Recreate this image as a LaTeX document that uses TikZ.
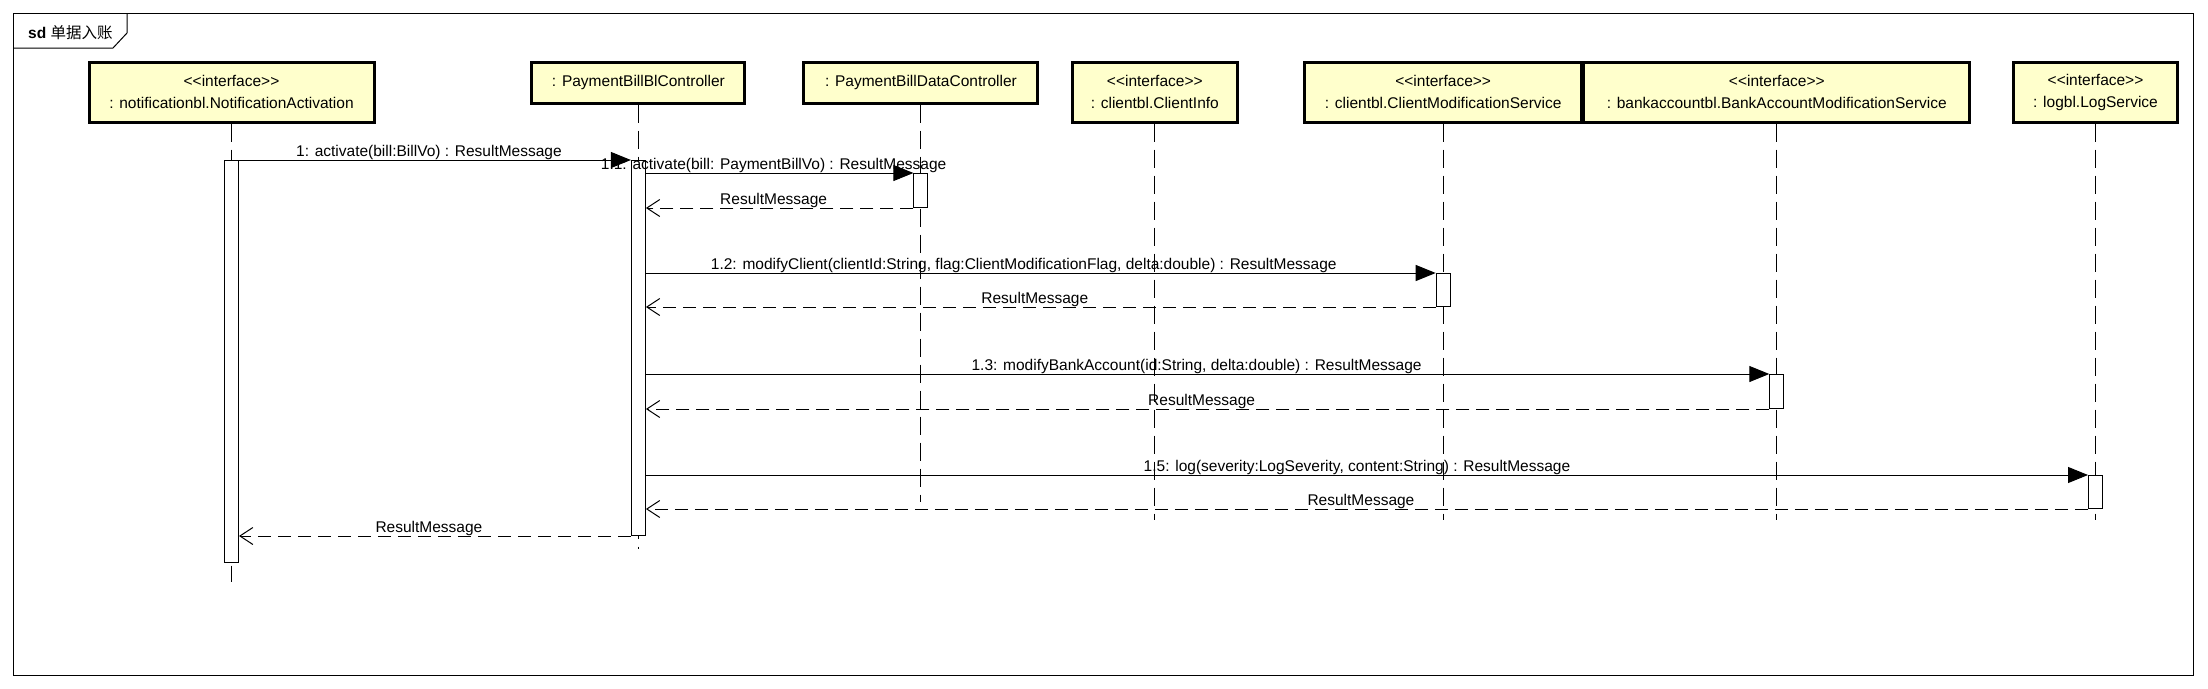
\documentclass[tikz,border=0pt]{standalone}
\usepackage{fontspec}
\setmainfont{Liberation Sans}
\newfontfamily\cjk{Noto Sans CJK SC}
\usetikzlibrary{arrows.meta}
\definecolor{headfill}{RGB}{255,255,204}
\newcommand\stereo[1]{<\kern0pt<#1>\kern0pt>}
\begin{document}
\begin{tikzpicture}[x=1pt,y=-1pt,
  every node/.style={font=\fontsize{15.5}{22}\selectfont, inner sep=0pt},
  head/.style={draw, line width=3pt, fill=headfill, align=center, minimum height=60pt},
  headone/.style={head, minimum height=41pt},
  lifeline/.style={draw, line width=1pt, dash pattern=on 18pt off 8pt},
  act/.style={draw, line width=1pt, fill=white, minimum width=14pt, anchor=north},
  msg/.style={line width=1pt, -{Triangle[length=20pt,width=16pt]}},
  ret/.style={line width=1pt, dash pattern=on 13pt off 7pt, -{Straight Barb[length=13pt,width=17pt,line width=1pt]}},
  lbl/.style={anchor=base, yshift=3.5pt, xshift=-6pt}
]
\useasboundingbox (0,0) rectangle (2208,688);

% frame
\node[draw, line width=1pt, minimum width=2180pt, minimum height=662pt, anchor=north west] (frame) at (13,13) {};
\draw[line width=1pt] (13,48) -- (113,48) -- (127,33) -- (127,13);
\node[anchor=base west] (title) at (28,38.5) {\textbf{sd} {\cjk 单据入账}};

% lifeline heads
\node[head, minimum width=285pt] (notif) at (231.5,92) {\stereo{interface}\\: notificationbl.NotificationActivation};
\node[headone, minimum width=213pt] (pbl) at (638.4,82.5) {: PaymentBillBlController};
\node[headone, minimum width=234pt] (pdata) at (920.9,82.5) {: PaymentBillDataController};
\node[head, minimum width=165pt] (cinfo) at (1154.8,92) {\stereo{interface}\\: clientbl.ClientInfo};
\node[head, minimum width=277pt] (cmod) at (1443.2,92) {\stereo{interface}\\: clientbl.ClientModificationService};
\node[head, minimum width=386pt] (bank) at (1776.8,92) {\stereo{interface}\\: bankaccountbl.BankAccountModificationService};
\node[head, minimum width=164pt] (log) at (2095.5,92) {\stereo{interface}\\: logbl.LogService};

% lifeline ends
\coordinate (notifEnd) at (231.5,582);
\coordinate (pblEnd) at (638.4,549);
\coordinate (pdataEnd) at (920.9,502);
\coordinate (cinfoEnd) at (1154.8,520);
\coordinate (cmodEnd) at (1443.2,520);
\coordinate (bankEnd) at (1776.8,520);
\coordinate (logEnd) at (2095.5,520);

\path[lifeline] (notif.south) -- (notifEnd);
\path[lifeline] (pbl.south) -- (pblEnd);
\path[lifeline] (pdata.south) -- (pdataEnd);
\path[lifeline] (cinfo.south) -- (cinfoEnd);
\path[lifeline] (cmod.south) -- (cmodEnd);
\path[lifeline] (bank.south) -- (bankEnd);
\path[lifeline] (log.south) -- (logEnd);

% activations
\node[act, minimum height=402pt] (aNotif) at (231.5,160) {};
\node[act, minimum height=375pt] (aPbl) at (638.4,160) {};
\node[act, minimum height=34pt] (aPdata) at (920.9,173) {};
\node[act, minimum height=33pt] (aCmod) at (1443.2,273) {};
\node[act, minimum height=34pt] (aBank) at (1776.8,374) {};
\node[act, minimum height=33pt] (aLog) at (2095.5,475) {};

% messages
\draw[msg] (aNotif.north east) -- node[lbl]{1: activate(bill:BillVo) : ResultMessage} (aPbl.north west);
\draw[msg] (aPbl.east |- aPdata.north) -- node[lbl]{1.1: activate(bill: PaymentBillVo) : ResultMessage} (aPdata.north west);
\draw[ret] (aPdata.south west) -- node[lbl]{ResultMessage} (aPbl.east |- aPdata.south);
\draw[msg] (aPbl.east |- aCmod.north) -- node[lbl, xshift=-11pt]{1.2: modifyClient(clientId:String, flag:ClientModificationFlag, delta:double) : ResultMessage} (aCmod.north west);
\draw[ret] (aCmod.south west) -- node[lbl]{ResultMessage} (aPbl.east |- aCmod.south);
\draw[msg] (aPbl.east |- aBank.north) -- node[lbl, xshift=-5pt]{1.3: modifyBankAccount(id:String, delta:double) : ResultMessage} (aBank.north west);
\draw[ret] (aBank.south west) -- node[lbl]{ResultMessage} (aPbl.east |- aBank.south);
\draw[msg] (aPbl.east |- aLog.north) -- node[lbl, xshift=-4pt]{1.5: log(severity:LogSeverity, content:String) : ResultMessage} (aLog.north west);
\draw[ret] (aLog.south west) -- node[lbl]{ResultMessage} (aPbl.east |- aLog.south);
\draw[ret] (aPbl.south west) -- node[lbl]{ResultMessage} (aNotif.east |- aPbl.south);
\end{tikzpicture}
\end{document}
